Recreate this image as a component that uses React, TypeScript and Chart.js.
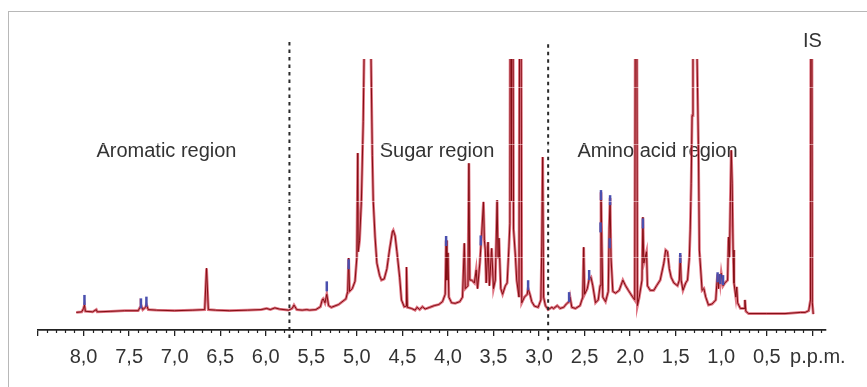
import React, { useEffect, useRef } from 'react';
import { Chart, registerables } from 'chart.js';

Chart.register(...registerables);

// Chemical shift (ppm) and relative intensity of the spectrum trace
const shiftPpm = [
  8.08, 8.02, 8.0, 7.99, 7.98, 7.9, 7.86, 7.85, 7.7, 7.55, 7.4, 7.38, 7.37, 7.35, 7.32, 7.31, 7.29, 7.2, 7.0, 6.8,
  6.67, 6.65, 6.63, 6.55, 6.4, 6.2, 6.05, 5.99, 5.95, 5.9, 5.85, 5.8, 5.75, 5.71, 5.69, 5.66, 5.6, 5.55, 5.52, 5.45,
  5.4, 5.38, 5.37, 5.35, 5.33, 5.31, 5.28, 5.2, 5.12, 5.1, 5.09, 5.08, 5.05, 5.02, 5.0, 4.99, 4.985, 4.97, 4.95, 4.93,
  4.92, 4.9, 4.885, 4.865, 4.845, 4.83, 4.82, 4.8, 4.78, 4.75, 4.73, 4.7, 4.67, 4.64, 4.61, 4.6, 4.58, 4.56, 4.53, 4.51,
  4.48, 4.46, 4.455, 4.445, 4.4, 4.36, 4.34, 4.31, 4.28, 4.25, 4.2, 4.15, 4.1, 4.06, 4.03, 4.02, 4.012, 4.0, 3.99, 3.96,
  3.92, 3.87, 3.84, 3.82, 3.81, 3.78, 3.77, 3.76, 3.74, 3.71, 3.69, 3.675, 3.65, 3.63, 3.61, 3.6, 3.59, 3.58, 3.56, 3.545,
  3.52, 3.5, 3.48, 3.46, 3.45, 3.44, 3.42, 3.4, 3.37, 3.35, 3.33, 3.32, 3.31, 3.302, 3.295, 3.28, 3.26, 3.245, 3.22, 3.205,
  3.19, 3.16, 3.13, 3.12, 3.1, 3.08, 3.05, 3.01, 2.98, 2.97, 2.96, 2.95, 2.93, 2.9, 2.86, 2.84, 2.8, 2.77, 2.73, 2.7,
  2.67, 2.66, 2.64, 2.6, 2.55, 2.52, 2.51, 2.5, 2.47, 2.45, 2.43, 2.41, 2.38, 2.35, 2.33, 2.32, 2.31, 2.3, 2.27, 2.24,
  2.23, 2.22, 2.21, 2.19, 2.16, 2.12, 2.08, 2.05, 2.02, 1.98, 1.95, 1.935, 1.92, 1.9, 1.87, 1.86, 1.85, 1.82, 1.81, 1.78,
  1.74, 1.71, 1.67, 1.63, 1.61, 1.59, 1.57, 1.55, 1.52, 1.48, 1.46, 1.45, 1.44, 1.42, 1.39, 1.37, 1.35, 1.34, 1.33, 1.32,
  1.31, 1.285, 1.265, 1.25, 1.24, 1.21, 1.19, 1.18, 1.17, 1.14, 1.1, 1.06, 1.05, 1.04, 1.03, 1.02, 1.01, 1.0, 0.98, 0.96,
  0.93, 0.92, 0.91, 0.9, 0.89, 0.88, 0.87, 0.86, 0.84, 0.83, 0.82, 0.79, 0.75, 0.74, 0.73, 0.7, 0.5, 0.3, 0.13, 0.08,
  0.04, 0.02, 0.012, 0.0, -0.01,
];
const intensity = [
  0.03, 0.04, 0.1, 0.16, 0.05, 0.04, 0.08, 0.04, 0.05, 0.06, 0.06, 0.12, 0.16, 0.08, 0.12, 0.17, 0.08, 0.07, 0.06, 0.07,
  0.08, 0.81, 0.08, 0.07, 0.06, 0.07, 0.08, 0.1, 0.08, 0.11, 0.09, 0.08, 0.07, 0.1, 0.16, 0.08, 0.07, 0.08, 0.07, 0.08,
  0.13, 0.25, 0.27, 0.2, 0.35, 0.15, 0.12, 0.17, 0.27, 0.4, 0.99, 0.4, 0.45, 0.58, 1.0, 2.84, 1.1, 1.3, 2.0, 3.4,
  4.6, 7.5, 14, 7.5, 4.6, 2.8, 2.0, 1.36, 0.9, 0.68, 0.6, 0.62, 0.8, 1.15, 1.45, 1.48, 1.38, 1.1, 0.65, 0.25,
  0.13, 0.14, 0.83, 0.12, 0.1, 0.07, 0.12, 0.08, 0.13, 0.09, 0.12, 0.15, 0.17, 0.22, 0.35, 1.3, 0.6, 1.08, 0.3, 0.2,
  0.19, 0.22, 0.3, 1.25, 0.45, 0.5, 2.66, 0.6, 0.6, 0.55, 0.78, 0.45, 0.9, 1.4, 1.98, 1.3, 1.13, 0.55, 1.27, 0.5,
  1.16, 0.45, 0.6, 2.01, 1.0, 1.34, 0.45, 0.35, 0.5, 0.55, 1.2, 1.6, 12, 2.0, 12, 1.5, 1.04, 0.6, 0.3, 12,
  0.2, 0.3, 0.35, 0.45, 0.35, 0.22, 0.14, 0.12, 0.25, 1.2, 2.77, 0.3, 0.15, 0.08, 0.12, 0.1, 0.15, 0.1, 0.12, 0.18,
  0.22, 0.3, 0.12, 0.1, 0.15, 0.3, 1.18, 0.35, 0.45, 0.62, 0.65, 0.5, 0.2, 0.25, 0.5, 2.15, 1.2, 0.3, 0.22, 0.4,
  1.5, 2.05, 1.0, 0.4, 0.37, 0.42, 0.6, 0.5, 0.42, 0.32, 0.25, 12, 0.15, 0.3, 0.6, 1.71, 0.9, 1.1, 0.5, 0.42,
  0.42, 0.5, 0.6, 0.9, 1.13, 1.1, 0.8, 0.65, 0.55, 0.5, 0.6, 1.04, 0.6, 0.42, 0.55, 0.6, 1.0, 1.5, 2.3, 3.5,
  4.5, 14, 4.5, 2.89, 1.13, 0.42, 0.45, 0.37, 0.3, 0.16, 0.18, 0.25, 0.5, 0.7, 0.45, 0.7, 0.55, 0.72, 0.5, 0.55,
  0.6, 1.36, 1.0, 2.0, 2.89, 2.31, 1.13, 0.55, 0.3, 0.48, 0.2, 0.1, 0.1, 0.25, 0.05, 0.01, 0.01, 0.01, 0.03, 0.03,
  0.06, 0.25, 12, 0.2, 0.0,
];

// Assignment markers (blue dashes)
const markerPpm = [7.99, 7.37, 7.31, 5.33, 5.09, 4.02, 3.64, 3.12, 2.67, 2.45, 2.32, 2.325, 2.22, 2.225, 1.86, 1.45, 1.04, 1.01, 0.98];
const markerInt = [0.25, 0.19, 0.22, 0.49, 0.88, 1.29, 1.3, 0.51, 0.3, 0.69, 2.1, 1.53, 2.01, 1.25, 1.6, 0.99, 0.65, 0.62, 0.6];

// Region dividers (ppm) and their vertical extent
const dividerPpm = [5.74, 2.9];
const dividerTop = [4.8, 4.76];
const dividerBottom = [-0.46, -0.46];

// Text annotations
const labelTexts = ['Aromatic region', 'Sugar region', 'Amino acid region', 'IS'];
const labelPpm = [7.09, 4.12, 1.7, 0.0];
const labelInt = [2.87, 2.87, 2.87, 4.81];

// Axis settings
const axisMinPpm = -0.15;
const axisMaxPpm = 8.5;
const majorStep = 0.5;
const minorStep = 0.1;
const gridLevels = [1, 2, 3, 4];

const FONT = "'Liberation Sans', Arial, Helvetica, sans-serif";

export default function App() {
  const ref = useRef<HTMLCanvasElement | null>(null);

  useEffect(() => {
    document.body.style.margin = '0';
    const canvas = ref.current;
    if (!canvas) return;

    const spectrum = shiftPpm.map((x, i) => ({ x, y: intensity[i] }));
    const markers = markerPpm.map((x, i) => ({ x, y: markerInt[i] }));

    const overlay = {
      id: 'nmrOverlay',
      beforeDatasetsDraw(chart: any) {
        const { ctx, scales } = chart;
        const xs = scales.x;
        const ys = scales.y;
        ctx.save();
        ctx.fillStyle = '#333333';
        ctx.font = `20px ${FONT}`;
        ctx.textAlign = 'center';
        ctx.textBaseline = 'middle';
        labelTexts.forEach((t, i) => {
          ctx.fillText(t, xs.getPixelForValue(labelPpm[i]), ys.getPixelForValue(labelInt[i]));
        });
        ctx.restore();
      },
      afterDatasetsDraw(chart: any) {
        const { ctx, scales, chartArea } = chart;
        const ys = scales.y;
        ctx.save();
        ctx.strokeStyle = 'rgba(255,255,255,0.45)';
        ctx.lineWidth = 1;
        gridLevels.forEach((g) => {
          const py = Math.round(ys.getPixelForValue(g)) + 0.5;
          ctx.beginPath();
          ctx.moveTo(chartArea.left, py);
          ctx.lineTo(chartArea.right, py);
          ctx.stroke();
        });
        ctx.restore();
      },
      afterDraw(chart: any) {
        const { ctx, scales, chartArea } = chart;
        const xs = scales.x;
        ctx.save();
        ctx.strokeStyle = '#222222';
        ctx.lineWidth = 1.2;
        const n = Math.round((axisMaxPpm - axisMinPpm) / minorStep) + 2;
        for (let i = -2; i < n; i++) {
          const v = i * minorStep;
          if (v < axisMinPpm - 1e-9 || v > axisMaxPpm + 1e-9) continue;
          const r = v / majorStep;
          if (Math.abs(r - Math.round(r)) < 1e-6) continue;
          const px = Math.round(xs.getPixelForValue(v)) + 0.5;
          ctx.beginPath();
          ctx.moveTo(px, chartArea.bottom);
          ctx.lineTo(px, chartArea.bottom + 3);
          ctx.stroke();
        }
        ctx.restore();
      },
    };

    const dividerSets = dividerPpm.map((p, i) => ({
      type: 'line' as const,
      data: [
        { x: p, y: dividerTop[i] },
        { x: p, y: dividerBottom[i] },
      ],
      borderColor: '#2a2a2a',
      borderWidth: 2,
      borderDash: [3.5, 4],
      pointRadius: 0,
      clip: false as any,
      order: 0,
    }));

    const chart = new Chart(canvas, {
      type: 'line',
      data: {
        datasets: [
          {
            data: spectrum,
            borderColor: 'rgba(214, 78, 96, 0.78)',
            borderWidth: 2.8,
            pointRadius: 0,
            tension: 0,
            order: 3,
          },
          {
            data: spectrum,
            borderColor: '#820c12',
            borderWidth: 1,
            pointRadius: 0,
            tension: 0,
            order: 2,
          },
          {
            data: markers,
            showLine: false,
            pointStyle: 'line',
            rotation: 90,
            pointRadius: 5,
            borderColor: '#4a4fae',
            pointBorderWidth: 2.5,
            borderWidth: 2.5,
            order: 1,
          } as any,
          ...dividerSets,
        ],
      },
      options: {
        animation: false,
        responsive: false,
        maintainAspectRatio: false,
        events: [],
        layout: { padding: { left: 38, right: 41, top: 59, bottom: 9 } },
        plugins: { legend: { display: false }, tooltip: { enabled: false } },
        scales: {
          x: {
            type: 'linear',
            min: axisMinPpm,
            max: axisMaxPpm,
            reverse: true,
            grid: {
              drawOnChartArea: false,
              drawTicks: true,
              tickLength: 6,
              color: '#222222',
              lineWidth: 1.3,
            },
            border: { display: true, color: '#222222', width: 1.8 },
            ticks: {
              stepSize: majorStep,
              includeBounds: false,
              autoSkip: false,
              maxRotation: 0,
              minRotation: 0,
              padding: 9,
              color: '#333333',
              font: { family: FONT, size: 20 },
              callback: (value: any) => {
                const v = Number(value);
                if (Math.abs(v) < 1e-9) return '  p.p.m.';
                if (v > 8.25) return '';
                return v.toFixed(1).replace('.', ',');
              },
            },
          },
          y: {
            display: false,
            min: -0.28,
            max: 4.5,
          },
        },
      },
      plugins: [overlay],
    });

    return () => chart.destroy();
  }, []);

  return (
    <div style={{ position: 'relative', width: 867, height: 387, overflow: 'hidden', background: '#fff' }}>
      <div
        style={{
          position: 'absolute',
          left: 8,
          top: 11,
          width: 900,
          height: 400,
          borderTop: '1px solid #b8b8b8',
          borderLeft: '1px solid #b8b8b8',
        }}
      />
      <canvas ref={ref} width={867} height={387} style={{ position: 'absolute', left: 0, top: 0, display: 'block' }} />
    </div>
  );
}
